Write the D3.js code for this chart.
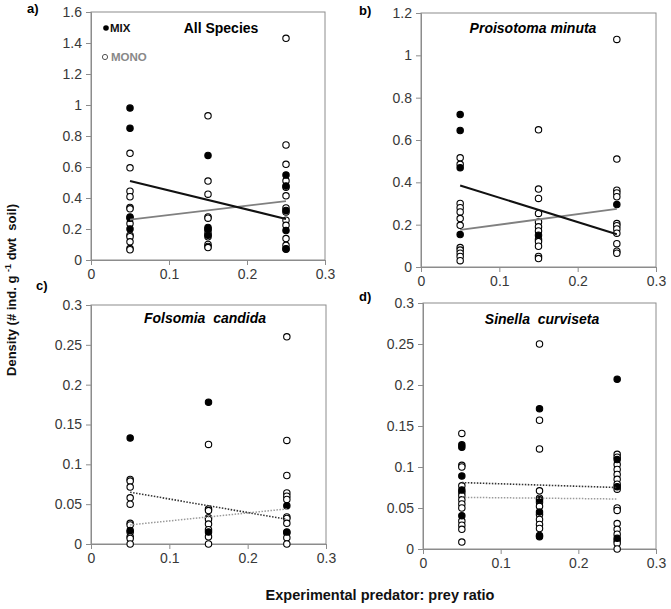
<!DOCTYPE html>
<html>
<head>
<meta charset="utf-8">
<script src="https://cdn.jsdelivr.net/npm/d3@7"></script>
<style>
  body { margin: 0; background: #fff; }
  svg { font-family: "Liberation Sans", Arial, sans-serif; }
  .axis path, .axis line { stroke: #8c8c8c; }
  .axis text { font-size: 14px; fill: #383838; }
</style>
</head>
<body>
<script>
// predator:prey ratios used in the experiment
var ratios = [0.05, 0.15, 0.25];
var xTicks = [0, 0.1, 0.2, 0.3];

// densities per ratio column (MIX = filled, MONO = open)
var allMix = [[0.98, 0.85, 0.278, 0.27, 0.2],
              [0.675, 0.21, 0.2, 0.16],
              [0.548, 0.477, 0.32, 0.19, 0.073]];
var allMono = [[0.688, 0.595, 0.444, 0.408, 0.339, 0.33, 0.235, 0.16, 0.15, 0.117, 0.074, 0.066],
               [0.93, 0.509, 0.425, 0.278, 0.27, 0.19, 0.17, 0.15, 0.1, 0.087, 0.08],
               [1.43, 0.742, 0.617, 0.511, 0.47, 0.414, 0.336, 0.31, 0.257, 0.224, 0.138, 0.095, 0.07]];
var allMixFit = [0.51, 0.265];
var allMonoFit = [0.26, 0.38];

var pmMix = [[0.72, 0.645, 0.469, 0.153],
             [0.15],
             [0.295]];
var pmMono = [[0.516, 0.485, 0.3, 0.28, 0.26, 0.229, 0.197, 0.092, 0.08, 0.065, 0.05, 0.03],
              [0.648, 0.368, 0.324, 0.253, 0.213, 0.19, 0.17, 0.13, 0.12, 0.098, 0.05, 0.04],
              [1.075, 0.51, 0.363, 0.35, 0.332, 0.205, 0.195, 0.18, 0.16, 0.11, 0.075, 0.065]];
var pmMixFit = [0.385, 0.155];
var pmMonoFit = [0.175, 0.275];

var fcMix = [[0.133, 0.017],
             [0.178, 0.015],
             [0.048, 0.015]];
var fcMono = [[0.081, 0.079, 0.0715, 0.058, 0.05, 0.026, 0.024, 0.015, 0.009, 0.007, 0],
              [0.125, 0.044, 0.042, 0.033, 0.031, 0.025, 0.018, 0.009, 0],
              [0.26, 0.13, 0.086, 0.064, 0.06, 0.056, 0.034, 0.032, 0.026, 0.014, 0.008, 0]];
var fcMixFit = [0.065, 0.031];
var fcMonoFit = [0.024, 0.044];

var scMix = [[0.127, 0.124, 0.089, 0.072, 0.0405],
             [0.171, 0.06, 0.045, 0.0165, 0.0148],
             [0.207, 0.109, 0.076, 0.013]];
var scMono = [[0.141, 0.102, 0.1, 0.077, 0.069, 0.065, 0.06, 0.055, 0.05, 0.034, 0.029, 0.024, 0.0085],
              [0.25, 0.157, 0.122, 0.071, 0.062, 0.057, 0.052, 0.042, 0.036, 0.03, 0.025],
              [0.1155, 0.112, 0.103, 0.097, 0.091, 0.085, 0.079, 0.073, 0.05, 0.047, 0.031, 0.024, 0.018, 0.01, 0.007, 0]];
var scMixFit = [0.081, 0.075];
var scMonoFit = [0.063, 0.061];

var width = 671, height = 609;

var panels = [
  {label: "a)", title: "All Species", italic: false, mix: allMix, mono: allMono, mixFit: allMixFit, monoFit: allMonoFit,
   yMax: 1.6, yTicks: [0, 0.2, 0.4, 0.6, 0.8, 1, 1.2, 1.4, 1.6], dotted: false,
   left: 91, right: 325, top: 12, bottom: 260, labelX: 27, labelY: 13, titleX: 221, titleY: 33, legend: true},
  {label: "b)", title: "Proisotoma minuta", italic: true, mix: pmMix, mono: pmMono, mixFit: pmMixFit, monoFit: pmMonoFit,
   yMax: 1.2, yTicks: [0, 0.2, 0.4, 0.6, 0.8, 1, 1.2], dotted: false,
   left: 421, right: 656, top: 13, bottom: 267, labelX: 359, labelY: 15, titleX: 533, titleY: 33},
  {label: "c)", title: "Folsomia  candida", italic: true, mix: fcMix, mono: fcMono, mixFit: fcMixFit, monoFit: fcMonoFit,
   yMax: 0.3, yTicks: [0, 0.05, 0.1, 0.15, 0.2, 0.25, 0.3], dotted: true,
   left: 91, right: 326, top: 305, bottom: 544, labelX: 36, labelY: 290, titleX: 205, titleY: 323},
  {label: "d)", title: "Sinella  curviseta", italic: true, mix: scMix, mono: scMono, mixFit: scMixFit, monoFit: scMonoFit,
   yMax: 0.3, yTicks: [0, 0.05, 0.1, 0.15, 0.2, 0.25, 0.3], dotted: true,
   left: 423, right: 656, top: 303, bottom: 549, labelX: 359, labelY: 301, titleX: 542, titleY: 324}
];

var svg = d3.select("body").append("svg")
  .attr("width", width)
  .attr("height", height);

var fmt = function(d) { return d === 0 ? "0" : String(+d.toFixed(2)); };

panels.forEach(function(p) {
  var x = d3.scaleLinear().domain([0, 0.3]).range([p.left, p.right]);
  var y = d3.scaleLinear().domain([0, p.yMax]).range([p.bottom, p.top]);

  // plot box
  svg.append("rect")
    .attr("x", p.left).attr("y", p.top)
    .attr("width", p.right - p.left).attr("height", p.bottom - p.top)
    .attr("fill", "none").attr("stroke", "#8c8c8c");

  svg.append("g").attr("class", "axis")
    .attr("transform", "translate(0," + p.bottom + ")")
    .call(d3.axisBottom(x).tickValues(xTicks).tickFormat(fmt).tickSize(5).tickPadding(4));

  svg.append("g").attr("class", "axis")
    .attr("transform", "translate(" + p.left + ",0)")
    .call(d3.axisLeft(y).tickValues(p.yTicks).tickFormat(fmt).tickSize(5).tickPadding(4));

  // panel letter and title
  svg.append("text").text(p.label)
    .attr("x", p.labelX).attr("y", p.labelY)
    .attr("font-size", 13).attr("font-weight", "bold");

  svg.append("text").text(p.title)
    .attr("x", p.titleX).attr("y", p.titleY)
    .attr("text-anchor", "middle")
    .attr("font-size", 14).attr("font-weight", "bold")
    .attr("font-style", p.italic ? "italic" : "normal")
    .attr("xml:space", "preserve");

  // points: MONO (open) first, MIX (filled) on top
  var pts = [];
  ratios.forEach(function(r, i) {
    p.mono[i].forEach(function(v) { pts.push({x: r, y: v, mix: false}); });
  });
  ratios.forEach(function(r, i) {
    p.mix[i].forEach(function(v) { pts.push({x: r, y: v, mix: true}); });
  });

  svg.append("g").selectAll("circle").data(pts).enter()
    .append("circle")
    .attr("cx", function(d) { return x(d.x); })
    .attr("cy", function(d) { return y(d.y); })
    .attr("r", 3.2)
    .attr("fill", function(d) { return d.mix ? "#000" : "#fff"; })
    .attr("stroke", "#000")
    .attr("stroke-width", 1.1);

  // fitted lines
  var line = d3.line().x(function(d) { return x(d[0]); }).y(function(d) { return y(d[1]); });
  var ends = [ratios[0], ratios[2]];

  svg.append("path")
    .datum([[ends[0], p.monoFit[0]], [ends[1], p.monoFit[1]]])
    .attr("d", line)
    .attr("fill", "none")
    .attr("stroke", p.dotted ? "#9a9a9a" : "#808080")
    .attr("stroke-width", p.dotted ? 1.5 : 1.8)
    .attr("stroke-dasharray", p.dotted ? "1.5,1.5" : null);

  svg.append("path")
    .datum([[ends[0], p.mixFit[0]], [ends[1], p.mixFit[1]]])
    .attr("d", line)
    .attr("fill", "none")
    .attr("stroke", p.dotted ? "#333" : "#111")
    .attr("stroke-width", p.dotted ? 1.6 : 2)
    .attr("stroke-dasharray", p.dotted ? "1.5,1.5" : null);

  if (p.legend) {
    var lg = svg.append("g");
    lg.append("circle").attr("cx", 106).attr("cy", 28).attr("r", 2.8).attr("fill", "#000");
    lg.append("text").text("MIX").attr("x", 110).attr("y", 32)
      .attr("font-size", 11.5).attr("font-weight", "bold").attr("fill", "#111");
    lg.append("circle").attr("cx", 105).attr("cy", 57).attr("r", 2.6)
      .attr("fill", "#fff").attr("stroke", "#555").attr("stroke-width", 1);
    lg.append("text").text("MONO").attr("x", 111).attr("y", 61)
      .attr("font-size", 11.5).attr("font-weight", "bold").attr("fill", "#888");
  }
});

// shared axis titles
var yt = svg.append("text")
  .attr("transform", "translate(16,290) rotate(-90)")
  .attr("text-anchor", "middle")
  .attr("font-size", 13).attr("font-weight", "bold").attr("fill", "#111")
  .attr("xml:space", "preserve");
yt.append("tspan").text("Density (# ind. g ");
yt.append("tspan").text("-1").attr("font-size", 9).attr("dy", -5);
yt.append("tspan").text(" dwt  soil)").attr("dy", 5);

svg.append("text").text("Experimental predator: prey ratio")
  .attr("x", 380).attr("y", 600)
  .attr("text-anchor", "middle")
  .attr("font-size", 14.5).attr("font-weight", "bold").attr("fill", "#111");
</script>
</body>
</html>
